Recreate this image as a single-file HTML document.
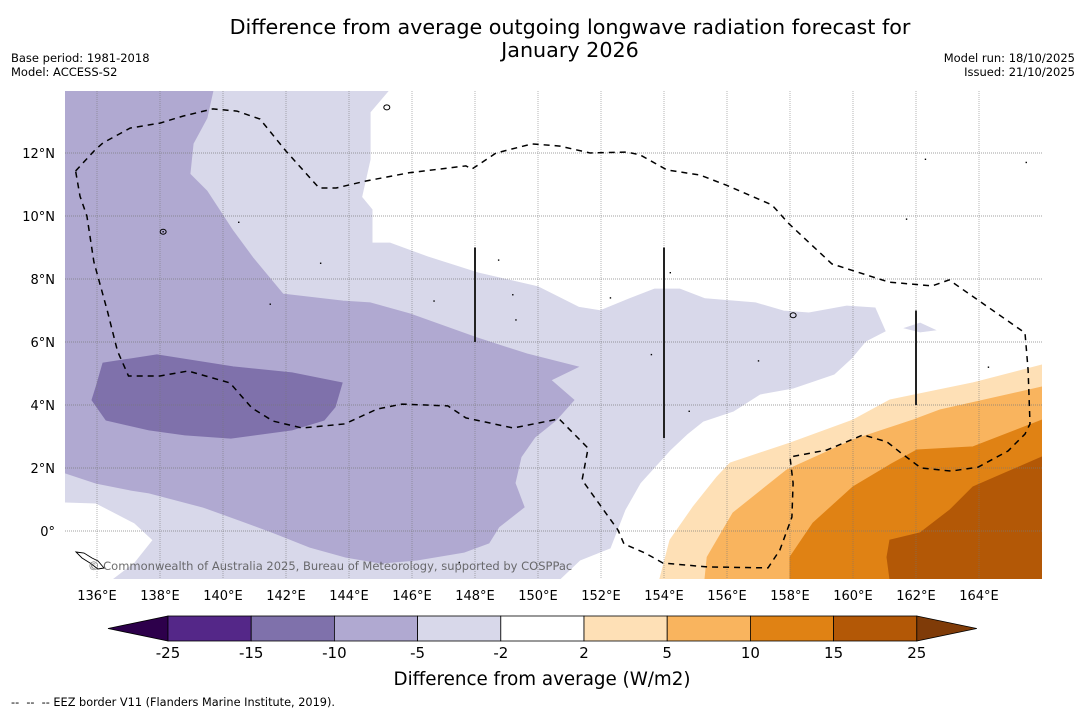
<!DOCTYPE html>
<html><head><meta charset="utf-8">
<style>
body{margin:0;background:#fff;width:1085px;height:713px;overflow:hidden;font-family:"Liberation Sans","DejaVu Sans",sans-serif;}
svg text{font-family:"DejaVu Sans","Liberation Sans",sans-serif;}
</style></head>
<body>
<svg id="chart" width="1085" height="713" viewBox="0 0 1085 713" xmlns="http://www.w3.org/2000/svg">
<text x="570" y="34" text-anchor="middle" font-size="20.7" fill="#000">Difference from average outgoing longwave radiation forecast for</text>
<text x="570" y="57" text-anchor="middle" font-size="20.7" fill="#000">January 2026</text>
<text x="11" y="62" font-size="11.5">Base period: 1981-2018</text>
<text x="11" y="76" font-size="11.5">Model: ACCESS-S2</text>
<text x="1075" y="62" font-size="11.5" text-anchor="end">Model run: 18/10/2025</text>
<text x="1075" y="76" font-size="11.5" text-anchor="end">Issued: 21/10/2025</text>
<defs><clipPath id="mapclip"><rect x="65" y="91" width="977" height="488"/></clipPath></defs>
<g id="map" clip-path="url(#mapclip)"></g>
<g id="axes"></g>
<g id="cbar"></g>
<text x="542" y="685" text-anchor="middle" font-size="18.3">Difference from average (W/m2)</text>
<text x="11" y="706" font-size="11.3" style="white-space:pre" xml:space="preserve">--  --  -- EEZ border V11 (Flanders Marine Institute, 2019).</text>
</svg>
<script>
const lonTicks=[136,138,140,142,144,146,148,150,152,154,156,158,160,162,164];
const latTicks=[0,2,4,6,8,10,12];
const levels=[-25,-15,-10,-5,-2,2,5,10,15,25];
const levelColors=["#542788","#7f71ab","#b0a9d1","#d8d8ea","#ffffff","#fee0b6","#f9b45e","#e08214","#b35806"];
const lowColor="#2d004b", highColor="#7f3b08";
const bandMinus5=[[135,13.97],[145.24,13.97],[144.67,13.3],[144.67,11.8],[144.4,10.6],[144.73,10.2],[144.73,9.14],[145.3,9.14],[146.5,8.7],[148.1,8.19],[150.0,7.75],[151.3,7.1],[151.97,6.99],[152.9,7.37],[153.7,7.68],[154.5,7.68],[155.3,7.37],[156.9,7.24],[157.8,6.98],[158.6,6.92],[159.8,7.14],[160.7,7.08],[161.02,6.35],[160.4,6.03],[159.95,5.49],[159.4,4.98],[158.1,4.54],[157.05,4.35],[156.2,3.81],[155.24,3.49],[154.73,3.08],[154.19,2.57],[153.24,1.52],[152.76,0.67],[152.29,-0.54],[151.33,-0.92],[150.7,-1.52],[136.54,-1.52],[137.2,-1.02],[137.78,-0.29],[137.2,0.25],[135.97,0.89],[135,0.92]];
const bandMinus5b=[[161.65,6.44],[162.13,6.6],[162.6,6.38],[162.13,6.32]];
const bandMinus10=[[135,13.97],[139.68,13.97],[139.49,13.11],[139.05,12.3],[138.95,11.33],[139.49,10.79],[140.32,9.52],[140.95,8.67],[141.9,7.52],[143.81,7.3],[144.67,7.24],[145.94,6.89],[148.06,6.13],[149.65,5.62],[151.27,5.21],[150.41,4.79],[151.14,4.16],[150.57,3.52],[149.9,2.98],[149.46,2.35],[149.27,1.52],[149.56,0.76],[148.76,0.13],[148.44,-0.38],[147.65,-0.67],[146.16,-0.92],[145.02,-1.02],[143.9,-0.83],[142.76,-0.51],[141.62,-0.06],[140.51,0.35],[139.37,0.76],[137.65,1.21],[137.08,1.3],[135.97,1.52],[135,1.84]];
const bandMinus15=[[136.19,5.33],[137.9,5.59],[140.32,5.21],[142.19,5.02],[143.78,4.7],[143.56,3.94],[143.21,3.52],[142.19,3.21],[140.25,2.95],[138.79,3.05],[137.65,3.21],[136.29,3.52],[135.84,4.16],[135.97,4.57]];
const bandPlus2=[[166,5.27],[163.81,4.7],[161.17,4.16],[160,3.52],[158,2.79],[156.1,2.16],[155.68,1.71],[154.92,0.76],[154.19,-0.29],[153.87,-1.52],[166,-1.52]];
const bandPlus5=[[166,4.57],[162.76,3.84],[161.9,3.52],[160,2.89],[157.9,1.94],[156.19,0.57],[155.37,-0.83],[155.3,-1.52],[166,-1.52]];
const bandPlus10=[[166,3.52],[163.81,2.67],[162.03,2.57],[161.27,2.16],[160,1.4],[158.73,0.25],[158,-0.83],[158,-1.52],[166,-1.52]];
const bandPlus15=[[166,2.35],[163.81,1.4],[163.08,0.67],[162.13,-0.06],[161.17,-0.29],[161.08,-0.83],[161.17,-1.52],[166,-1.52]];
const eezBorder=[[135.32,11.43],[135.9,12.06],[136.19,12.32],[137.05,12.79],[138,12.95],[138.73,13.17],[139.68,13.4],[140.44,13.33],[141.17,13.08],[142.0,12.06],[143.05,10.89],[143.59,10.89],[144.54,11.11],[145.9,11.37],[147.71,11.59],[147.9,11.49],[148.67,12.0],[149.81,12.29],[150.7,12.22],[151.65,12.0],[152.83,12.03],[153.24,11.94],[154.1,11.46],[155.14,11.3],[155.97,10.98],[157.43,10.35],[157.97,9.75],[159.33,8.48],[161.14,7.9],[162.51,7.78],[163.05,7.97],[165.46,6.29],[165.56,5.11],[165.62,3.4],[165.46,3.08],[164.92,2.54],[163.97,2.03],[163.11,1.9],[162.16,2.0],[161.52,2.48],[161.08,2.83],[160.32,3.05],[159.17,2.57],[158,2.35],[158.1,1.52],[158.06,0.44],[157.68,-0.6],[157.3,-1.17],[155.37,-1.14],[153.97,-1.02],[153.4,-0.7],[152.73,-0.41],[152.54,0.03],[151.4,1.62],[151.59,2.63],[150.67,3.56],[149.21,3.27],[147.71,3.59],[147.14,3.97],[145.68,4.03],[144.89,3.87],[143.87,3.4],[142.51,3.27],[141.59,3.49],[140.92,3.9],[140.22,4.7],[138.89,5.08],[138,4.92],[137.0,4.92],[136.65,5.71],[136.33,6.98],[135.9,8.54],[135.68,10.0],[135.46,10.63]];
const meridianLines=[[148,9,6],[154,9,2.95],[162,7,4]];
const islands=[[138.1,9.5],[140.5,9.8],[141.5,7.2],[146.7,7.3],[148.75,8.6],[152.3,7.4],[149.2,7.5],[149.3,6.7],[154.2,8.2],[153.6,5.6],[157.0,5.4],[161.7,9.9],[162.3,11.8],[165.5,11.7],[164.3,5.2],[154.8,3.8],[143.1,8.5],[147.5,-1.0]];
const rings=[[145.2,13.45],[158.1,6.85],[138.1,9.5]];

const svg=document.getElementById('chart');
const NS='http://www.w3.org/2000/svg';
function X(lon){return 97+(lon-136)*31.5;}
function Y(lat){return 531-lat*31.5;}
function mk(tag,attrs,parent){const e=document.createElementNS(NS,tag);for(const k in attrs)e.setAttribute(k,attrs[k]);parent.appendChild(e);return e;}
function pts(arr){return arr.map(p=>X(p[0]).toFixed(1)+','+Y(p[1]).toFixed(1)).join(' ');}
const map=document.getElementById('map');
let bg=mk('rect',{x:65,y:91,width:977,height:488,fill:'#fff'},map);


const bands=[[bandMinus5,levelColors[3],'band-minus5'],[bandMinus5b,levelColors[3],'band-minus5-small'],[bandMinus10,levelColors[2],'band-minus10'],[bandMinus15,levelColors[1],'band-minus15'],[bandPlus2,levelColors[5],'band-plus2'],[bandPlus5,levelColors[6],'band-plus5'],[bandPlus10,levelColors[7],'band-plus10'],[bandPlus15,levelColors[8],'band-plus15']];
bands.forEach(b=>{
  const p=mk('polygon',{points:pts(b[0]),fill:b[1],stroke:b[1],'stroke-width':1},map);
  
  
});
lonTicks.forEach(l=>{
  const g=mk('line',{x1:X(l),x2:X(l),y1:91,y2:579,stroke:'#777','stroke-opacity':0.55,'stroke-width':1,'stroke-dasharray':'1,1'},map);
  
  
});
latTicks.forEach(l=>{
  const g=mk('line',{x1:65,x2:1042,y1:Y(l),y2:Y(l),stroke:'#777','stroke-opacity':0.7,'stroke-width':1,'stroke-dasharray':'1,1'},map);
  
  
});
meridianLines.forEach(m=>{
  const l=mk('line',{x1:X(m[0]),x2:X(m[0]),y1:Y(m[1]),y2:Y(m[2]),stroke:'#222','stroke-width':2},map);
  
  
});
islands.forEach(i=>{
  const c=mk('rect',{x:X(i[0])-0.7,y:Y(i[1])-0.7,width:1.4,height:1.4,fill:'#000'},map);
  
  
});
rings.forEach(i=>{
  const c=mk('ellipse',{cx:X(i[0]),cy:Y(i[1]),rx:3,ry:2.5,fill:'none',stroke:'#000','stroke-width':1},map);
  
  
});
const sol=mk('path',{d:'M76,552 L84,553 L92,558 L98,561 L104,568 L98,569 L90,563 L82,558 Z',fill:'none',stroke:'#000','stroke-width':0.9},map);


const eez=mk('polygon',{points:pts(eezBorder),fill:'none',stroke:'#000','stroke-width':1.5,'stroke-dasharray':'6,5'},map);


const cr=mk('text',{x:88,y:570,'font-size':11.5,fill:'#555','fill-opacity':0.85},map);
cr.textContent='© Commonwealth of Australia 2025, Bureau of Meteorology, supported by COSPPac';


const axes=document.getElementById('axes');
lonTicks.forEach(l=>{
  const t=mk('text',{x:X(l),y:600,'text-anchor':'middle','font-size':13},axes);
  t.textContent=l+'°E';
  
  
});
latTicks.forEach(l=>{
  const t=mk('text',{x:55,y:Y(l)+5,'text-anchor':'end','font-size':13},axes);
  t.textContent=l===0?'0°':l+'°N';
  
  
});
const cb=document.getElementById('cbar');
const cbX0=168,cbW=83.2,cbY=616,cbH=25;
let lt=mk('polygon',{points:`108,${cbY+cbH/2} ${cbX0},${cbY} ${cbX0},${cbY+cbH}`,fill:lowColor,stroke:'#000','stroke-width':0.8},cb);


levelColors.forEach((c,i)=>{
  const r=mk('rect',{x:cbX0+i*cbW,y:cbY,width:cbW,height:cbH,fill:c,stroke:'#000','stroke-width':0.8},cb);
  
  
});
const xe=cbX0+levelColors.length*cbW;
let rt=mk('polygon',{points:`${xe},${cbY} ${xe+60},${cbY+cbH/2} ${xe},${cbY+cbH}`,fill:highColor,stroke:'#000','stroke-width':0.8},cb);


levels.forEach((v,i)=>{
  const t=mk('text',{x:cbX0+i*cbW,y:658,'text-anchor':'middle','font-size':15},cb);
  t.textContent=v;
  
  
});
</script>
</body></html>
